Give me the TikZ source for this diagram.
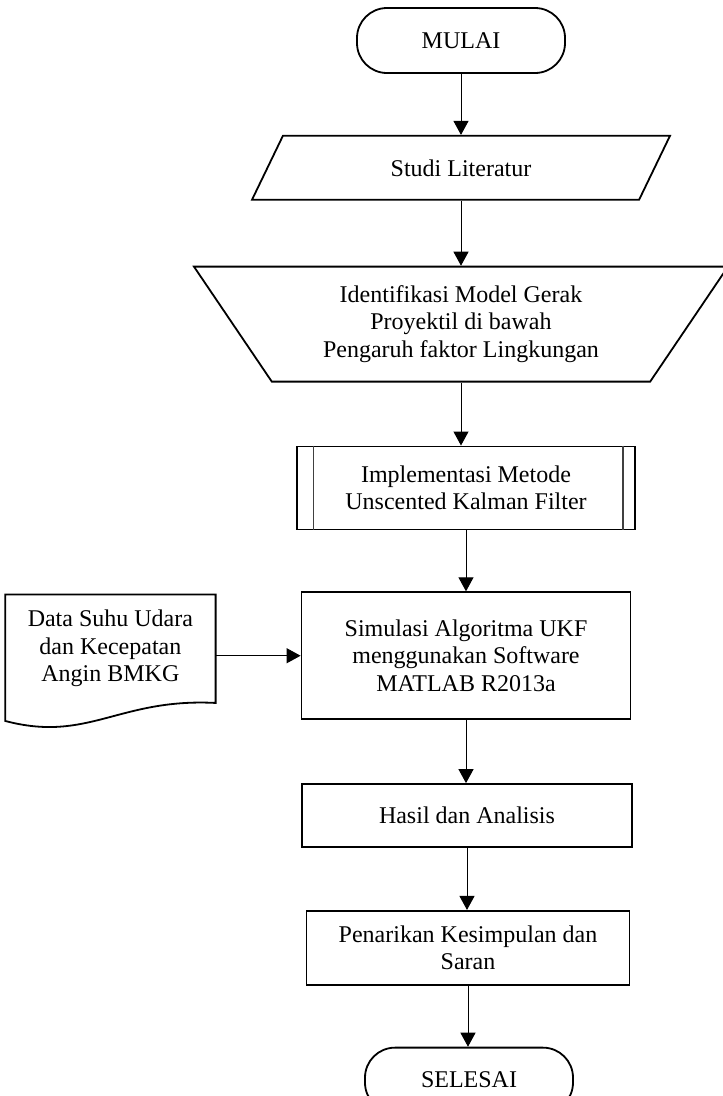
\documentclass[tikz,border=0pt]{standalone}
\usepackage{fontspec}
\setmainfont{Liberation Serif}
\usepackage{tikz}
\usetikzlibrary{positioning, arrows.meta, calc, shapes.geometric}
\tikzset{
  terminal/.style={
    rectangle, draw, line width=1.8pt, rounded corners=30pt,
    minimum width=208pt, minimum height=65pt
  },
  process/.style={rectangle, draw, line width=1.8pt, align=center, inner sep=4pt},
  inputbox/.style={
    trapezium, trapezium stretches body, draw, line width=1.8pt, align=center,
    trapezium left angle=37.3, trapezium right angle=142.7,
    minimum width=418pt, minimum height=64pt
  },
  manualop/.style={
    trapezium, trapezium stretches body, draw, line width=1.8pt, align=center,
    trapezium left angle=132.9, trapezium right angle=132.9,
    minimum width=534pt, minimum height=115pt
  },
  docshape/.style={rectangle, align=center, minimum width=210pt, minimum height=108pt},
  every edge/.style={draw, -{Triangle[width=15pt,length=14pt]}, line width=1pt},
}

\begin{document}
\begin{tikzpicture}[x=1pt, y=1pt, font=\fontsize{24}{27.5}\selectfont]
  \useasboundingbox (0,0) rectangle (723,-1096);

  \node[terminal] (start) at (461,-40.5) {MULAI};
  \node[inputbox, below=61pt of start] (studi) {Studi Literatur};
  \node[manualop, below=65pt of studi] (ident) {Identifikasi Model Gerak\\Proyektil di bawah\\Pengaruh faktor Lingkungan};
  \node[process, minimum width=338pt, minimum height=83pt, below=63pt of ident, xshift=5pt] (impl) {Implementasi Metode\\Unscented Kalman Filter};
  \node[process, minimum width=329pt, minimum height=127pt, below=61pt of impl] (sim) {Simulasi Algoritma UKF\\menggunakan Software\\MATLAB R2013a};
  \node[docshape, left=85pt of sim, yshift=7pt] (data) {Data Suhu Udara\\dan Kecepatan\\Angin BMKG};
  \node[process, minimum width=330pt, minimum height=63pt, below=63pt of sim, xshift=1pt] (hasil) {Hasil dan Analisis};
  \node[process, minimum width=323pt, minimum height=74pt, below=62pt of hasil, xshift=1pt] (saran) {Penarikan Kesimpulan dan\\Saran};
  \node[terminal, below=61pt of saran, xshift=1pt] (stop) {SELESAI};

  % sub-process side bars
  \draw[line width=1.2pt, black!75] ([xshift=17pt]impl.north west) -- ([xshift=17pt]impl.south west);
  \draw[line width=1.2pt, black!75] ([xshift=-13pt]impl.north east) -- ([xshift=-13pt]impl.south east);

  % document outline
  \draw[line width=1.8pt] (data.south east) -- (data.north east) -- (data.north west)
    -- ([yshift=-18pt]data.south west)
    .. controls +(83pt,-22pt) and +(-97pt,5pt) .. (data.south east) -- cycle;

  \path (start.south) edge (start.south |- studi.north)
        (studi.south) edge (studi.south |- ident.north)
        (ident.south) edge (ident.south |- impl.north)
        (impl.south) edge (impl.south |- sim.north)
        (sim.south) edge (sim.south |- hasil.north)
        (hasil.south) edge (hasil.south |- saran.north)
        (saran.south) edge (saran.south |- stop.north)
        (data.east |- sim.west) edge (sim.west);
\end{tikzpicture}
\end{document}
